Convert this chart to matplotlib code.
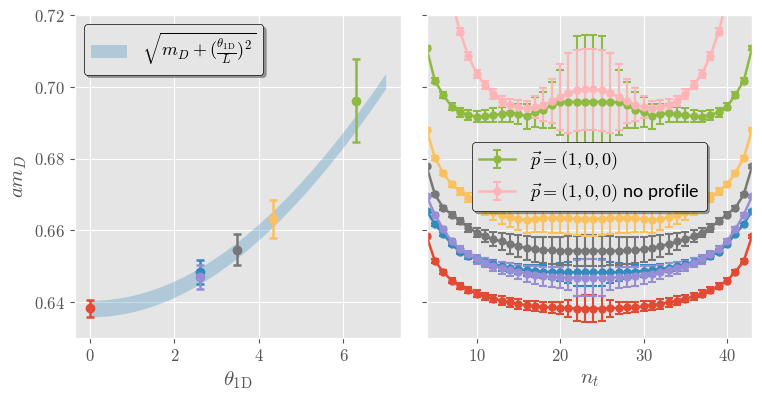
import numpy as np
import matplotlib.pyplot as plt
from matplotlib.ticker import FuncFormatter
plt.switch_backend("agg")

plt.style.use("ggplot")
plt.rcParams["mathtext.fontset"] = "cm"
plt.rcParams["font.family"] = ["Lato", "DejaVu Sans"]

# left panel: fitted masses vs twist angle
theta = [0.0, 2.60, 2.60, 3.48, 4.33, 6.30]
am_D = [0.6383, 0.6483, 0.6470, 0.6546, 0.6632, 0.6962]
am_D_err = [0.0024, 0.0033, 0.0033, 0.0043, 0.0052, 0.0116]
colors = ["#E24A33", "#348ABD", "#988ED5", "#777777", "#FBC15E", "#8EBA42"]

# fit parameters of the band
m_fit = 0.6382
m_fit_err = 0.0023
L = 24.0

# right panel: effective masses vs n_t
n_t = list(range(4, 44))
eff_red = [0.6584, 0.6515, 0.6484, 0.6460, 0.6445, 0.6434, 0.6423, 0.6416, 0.6410, 0.6404,
           0.6399, 0.6395, 0.6391, 0.6388, 0.6386, 0.6385, 0.6384, 0.6383, 0.6382, 0.6382,
           0.6382, 0.6382, 0.6383, 0.6384, 0.6385, 0.6386, 0.6388, 0.6391, 0.6395, 0.6399,
           0.6404, 0.6410, 0.6416, 0.6423, 0.6434, 0.6445, 0.6460, 0.6484, 0.6515, 0.6584]
err_red = [0.0004, 0.0005, 0.0006, 0.0007, 0.0008, 0.0009, 0.0010, 0.0010, 0.0011, 0.0012,
           0.0012, 0.0013, 0.0013, 0.0014, 0.0015, 0.0015, 0.0016, 0.0024, 0.0036, 0.0037,
           0.0037, 0.0036, 0.0024, 0.0016, 0.0015, 0.0015, 0.0014, 0.0013, 0.0013, 0.0012,
           0.0012, 0.0011, 0.0010, 0.0010, 0.0009, 0.0008, 0.0007, 0.0006, 0.0005, 0.0004]
eff_blue = [0.6655, 0.6617, 0.6590, 0.6562, 0.6540, 0.6528, 0.6520, 0.6512, 0.6505, 0.6500,
            0.6496, 0.6492, 0.6489, 0.6487, 0.6485, 0.6484, 0.6483, 0.6483, 0.6483, 0.6483,
            0.6483, 0.6483, 0.6483, 0.6483, 0.6484, 0.6485, 0.6487, 0.6489, 0.6492, 0.6496,
            0.6500, 0.6505, 0.6512, 0.6520, 0.6528, 0.6540, 0.6562, 0.6590, 0.6617, 0.6655]
err_blue = [0.0003, 0.0004, 0.0005, 0.0006, 0.0007, 0.0008, 0.0009, 0.0010, 0.0011, 0.0012,
            0.0013, 0.0014, 0.0015, 0.0017, 0.0019, 0.0021, 0.0025, 0.0030, 0.0037, 0.0038,
            0.0038, 0.0037, 0.0030, 0.0025, 0.0021, 0.0019, 0.0017, 0.0015, 0.0014, 0.0013,
            0.0012, 0.0011, 0.0010, 0.0009, 0.0008, 0.0007, 0.0006, 0.0005, 0.0004, 0.0003]
eff_purple = [0.6695, 0.6644, 0.6603, 0.6570, 0.6547, 0.6533, 0.6519, 0.6510, 0.6501, 0.6495,
              0.6490, 0.6484, 0.6479, 0.6475, 0.6472, 0.6470, 0.6469, 0.6468, 0.6468, 0.6468,
              0.6468, 0.6468, 0.6468, 0.6469, 0.6470, 0.6472, 0.6475, 0.6479, 0.6484, 0.6490,
              0.6495, 0.6501, 0.6510, 0.6519, 0.6533, 0.6547, 0.6570, 0.6603, 0.6644, 0.6695]
err_purple = [0.0004, 0.0005, 0.0006, 0.0007, 0.0008, 0.0009, 0.0012, 0.0013, 0.0014, 0.0016,
              0.0018, 0.0020, 0.0022, 0.0025, 0.0027, 0.0029, 0.0030, 0.0035, 0.0050, 0.0051,
              0.0051, 0.0050, 0.0035, 0.0030, 0.0029, 0.0027, 0.0025, 0.0022, 0.0020, 0.0018,
              0.0016, 0.0014, 0.0013, 0.0012, 0.0009, 0.0008, 0.0007, 0.0006, 0.0005, 0.0004]
eff_gray = [0.6779, 0.6700, 0.6663, 0.6644, 0.6626, 0.6607, 0.6594, 0.6584, 0.6575, 0.6569,
            0.6562, 0.6556, 0.6550, 0.6547, 0.6545, 0.6544, 0.6543, 0.6543, 0.6543, 0.6543,
            0.6543, 0.6543, 0.6543, 0.6543, 0.6544, 0.6545, 0.6547, 0.6550, 0.6556, 0.6562,
            0.6569, 0.6575, 0.6584, 0.6594, 0.6607, 0.6626, 0.6644, 0.6663, 0.6700, 0.6779]
err_gray = [0.0004, 0.0005, 0.0006, 0.0008, 0.0009, 0.0011, 0.0013, 0.0016, 0.0020, 0.0024,
            0.0028, 0.0030, 0.0033, 0.0035, 0.0036, 0.0038, 0.0039, 0.0040, 0.0042, 0.0043,
            0.0043, 0.0042, 0.0040, 0.0039, 0.0038, 0.0036, 0.0035, 0.0033, 0.0030, 0.0028,
            0.0024, 0.0020, 0.0016, 0.0013, 0.0011, 0.0009, 0.0008, 0.0006, 0.0005, 0.0004]
eff_yellow = [0.6881, 0.6802, 0.6760, 0.6728, 0.6709, 0.6691, 0.6673, 0.6660, 0.6651, 0.6642,
              0.6636, 0.6632, 0.6628, 0.6632, 0.6634, 0.6635, 0.6635, 0.6634, 0.6633, 0.6633,
              0.6633, 0.6633, 0.6634, 0.6635, 0.6635, 0.6634, 0.6632, 0.6628, 0.6632, 0.6636,
              0.6642, 0.6651, 0.6660, 0.6673, 0.6691, 0.6709, 0.6728, 0.6760, 0.6802, 0.6881]
err_yellow = [0.0004, 0.0005, 0.0006, 0.0008, 0.0010, 0.0012, 0.0015, 0.0018, 0.0022, 0.0025,
              0.0028, 0.0031, 0.0034, 0.0037, 0.0039, 0.0041, 0.0043, 0.0045, 0.0047, 0.0048,
              0.0048, 0.0047, 0.0045, 0.0043, 0.0041, 0.0039, 0.0037, 0.0034, 0.0031, 0.0028,
              0.0025, 0.0022, 0.0018, 0.0015, 0.0012, 0.0010, 0.0008, 0.0006, 0.0005, 0.0004]
eff_green = [0.7108, 0.7017, 0.6978, 0.6945, 0.6929, 0.6922, 0.6917, 0.6918, 0.6922, 0.6924,
             0.6927, 0.6924, 0.6918, 0.6930, 0.6936, 0.6950, 0.6957, 0.6958, 0.6958, 0.6959,
             0.6959, 0.6958, 0.6958, 0.6957, 0.6950, 0.6936, 0.6930, 0.6918, 0.6924, 0.6927,
             0.6924, 0.6922, 0.6918, 0.6917, 0.6922, 0.6929, 0.6945, 0.6978, 0.7017, 0.7108]
err_green = [0.0005, 0.0007, 0.0008, 0.0010, 0.0012, 0.0013, 0.0015, 0.0017, 0.0019, 0.0021,
             0.0024, 0.0027, 0.0035, 0.0042, 0.0050, 0.0064, 0.0090, 0.0137, 0.0184, 0.0186,
             0.0186, 0.0184, 0.0137, 0.0090, 0.0064, 0.0050, 0.0042, 0.0035, 0.0027, 0.0024,
             0.0021, 0.0019, 0.0017, 0.0015, 0.0013, 0.0012, 0.0010, 0.0008, 0.0007, 0.0005]
eff_pink = [0.7734, 0.7524, 0.7364, 0.7244, 0.7154, 0.7086, 0.7037, 0.7005, 0.6980, 0.6961,
            0.6950, 0.6945, 0.6940, 0.6944, 0.6950, 0.6960, 0.6972, 0.6983, 0.6990, 0.6994,
            0.6994, 0.6990, 0.6983, 0.6972, 0.6960, 0.6950, 0.6944, 0.6940, 0.6945, 0.6950,
            0.6961, 0.6980, 0.7005, 0.7037, 0.7086, 0.7154, 0.7244, 0.7364, 0.7524, 0.7734]
err_pink = [0.0006, 0.0007, 0.0008, 0.0009, 0.0010, 0.0010, 0.0011, 0.0012, 0.0013, 0.0014,
            0.0016, 0.0019, 0.0022, 0.0030, 0.0046, 0.0062, 0.0093, 0.0112, 0.0113, 0.0113,
            0.0113, 0.0113, 0.0112, 0.0093, 0.0062, 0.0046, 0.0030, 0.0022, 0.0019, 0.0016,
            0.0014, 0.0013, 0.0012, 0.0011, 0.0010, 0.0010, 0.0009, 0.0008, 0.0007, 0.0006]

series = [
    (eff_red, err_red, "#E24A33", None),
    (eff_blue, err_blue, "#348ABD", None),
    (eff_purple, err_purple, "#988ED5", None),
    (eff_gray, err_gray, "#777777", None),
    (eff_yellow, err_yellow, "#FBC15E", None),
    (eff_green, err_green, "#8EBA42", r"$\vec{p}=(1,0,0)$"),
    (eff_pink, err_pink, "#FFB5B8", r"$\vec{p}=(1,0,0)$ no profile"),
]

fig, (ax1, ax2) = plt.subplots(1, 2, sharey=True, figsize=(7.62, 3.99), dpi=100)
fig.subplots_adjust(left=0.0984, right=0.987, top=0.962, bottom=0.153, wspace=0.08)

th = np.linspace(0, 7, 200)
lo = np.sqrt((m_fit - m_fit_err)**2 + (th / L)**2)
hi = np.sqrt((m_fit + m_fit_err)**2 + (th / L)**2)
ax1.fill_between(th, lo, hi, color="#348ABD", alpha=0.3, lw=0,
                 label=r"$\sqrt{m_D + (\frac{\theta_{\rm 1D}}{L})^2}$")
for x, y, e, c in zip(theta, am_D, am_D_err, colors):
    ax1.errorbar(x, y, yerr=e, fmt="o", color=c, ms=6, capsize=3, elinewidth=1.8, capthick=1.8)

ax1.set_ylim(0.63, 0.72)
ax1.set_xlim(-0.35, 7.35)
ax1.set_yticks([0.64, 0.66, 0.68, 0.70, 0.72])
ax1.set_xticks([0, 2, 4, 6])
ax1.set_xlabel(r"$\theta_{\rm 1D}$", fontsize=15, color="#555555")
ax1.set_ylabel(r"$am_D$", fontsize=15, color="#555555")
leg1 = ax1.legend(loc="upper left", fontsize=13, shadow=True, fancybox=True,
                  framealpha=1, edgecolor="k", facecolor="#E5E5E5")

for y, e, c, lab in series:
    ax2.errorbar(n_t, y, yerr=e, fmt="-o", color=c, ms=5, lw=1.8, capsize=3,
                 elinewidth=1.5, capthick=1.5, label=lab)
ax2.set_xlim(4, 43)
ax2.set_xticks([10, 20, 30, 40])
ax2.set_xlabel(r"$n_t$", fontsize=15, color="#555555")
ax2.legend(loc="center", fontsize=13, shadow=True, fancybox=True,
           framealpha=1, edgecolor="k", facecolor="#E5E5E5")

fmt_y = FuncFormatter(lambda v, p: r"$%.2f$" % v)
fmt_x = FuncFormatter(lambda v, p: r"$%d$" % v)
ax1.yaxis.set_major_formatter(fmt_y)
for ax in (ax1, ax2):
    ax.xaxis.set_major_formatter(fmt_x)
    ax.tick_params(labelsize=12, colors="#555555")

plt.savefig("out.png", dpi=100)
